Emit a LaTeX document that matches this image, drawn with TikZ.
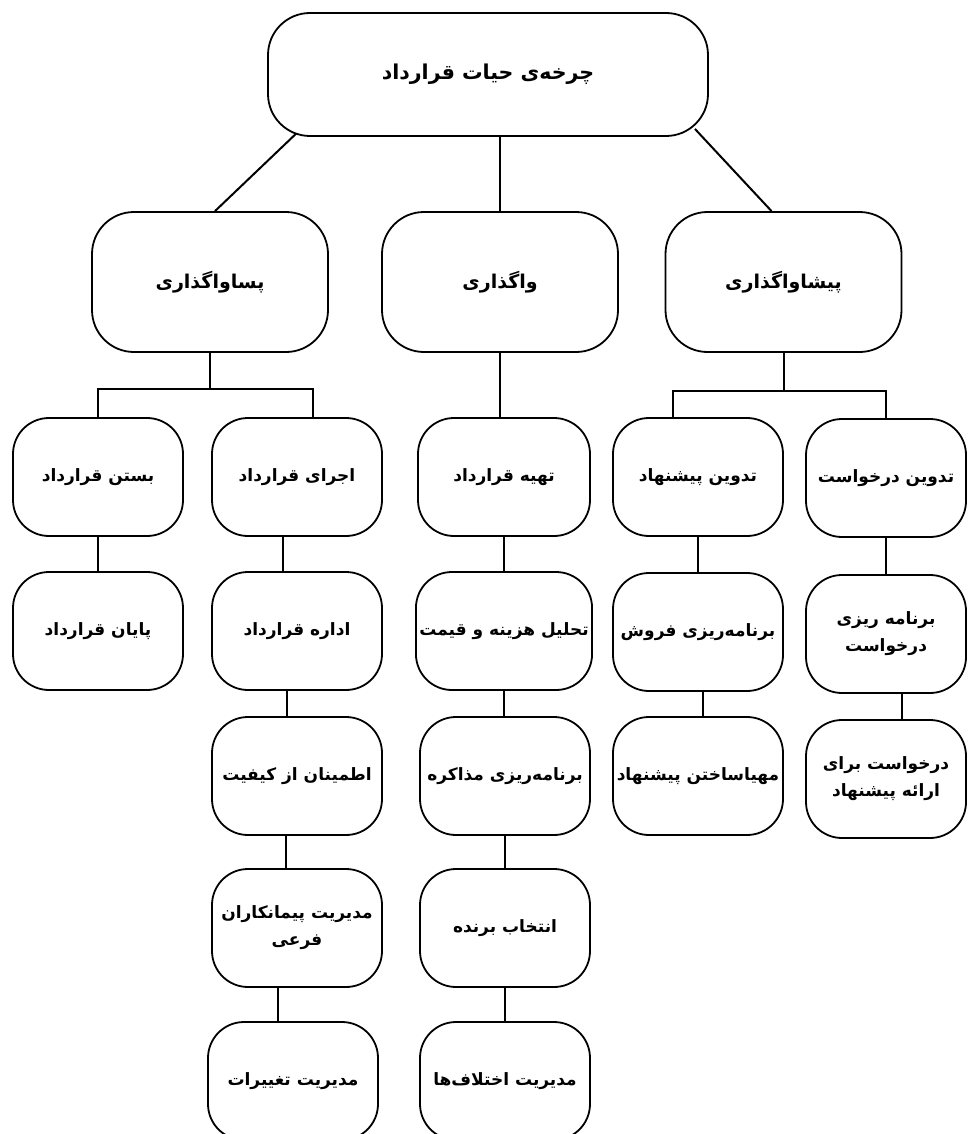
\documentclass[tikz,border=0pt]{standalone}
\usepackage{fontspec}
\newfontfamily\arabicfont[Script=Arabic]{DejaVu Sans}
\TeXXeTstate=1
\newcommand{\fatext}[1]{\beginR#1\endR}
\usetikzlibrary{backgrounds}

\begin{document}
\begin{tikzpicture}[x=1pt,y=-1pt,
    box/.style={draw,fill=white,line width=1.8pt,rounded corners=36pt,align=center,
      minimum width=170pt,minimum height=118pt,
      font=\arabicfont\bfseries\fontsize{17}{27}\selectfont},
    phase/.style={box,minimum width=236pt,minimum height=140pt,rounded corners=42pt,
      font=\arabicfont\bfseries\fontsize{19}{26}\selectfont},
    link/.style={line width=2pt}]
  \useasboundingbox (0,0) rectangle (968,1134);
  \draw
    (488,74.5) node[box,minimum width=440pt,minimum height=123pt,rounded corners=42pt,
      font=\arabicfont\bfseries\fontsize{20.5}{28}\selectfont] (cycle){\fatext{چرخه^^^^200cی حیات قرارداد}}
    (210,282) node[phase] (post){\fatext{پساواگذاری}}
    (500,282) node[phase] (award){\fatext{واگذاری}}
    (783.5,282) node[phase] (pre){\fatext{پیشاواگذاری}}
    (98,477) node[box] (close){\fatext{بستن قرارداد}}
    (98,631) node[box] (finish){\fatext{پایان قرارداد}}
    (297,477) node[box] (exec){\fatext{اجرای قرارداد}}
    (297,631) node[box] (admin){\fatext{اداره قرارداد}}
    (297,776) node[box] (quality){\fatext{اطمینان از کیفیت}}
    (297,928) node[box] (subcon){\fatext{مدیریت پیمانکاران}\\\fatext{فرعی}}
    (293,1081) node[box] (change){\fatext{مدیریت تغییرات}}
    (504,477) node[box,minimum width=172pt] (prep){\fatext{تهیه قرارداد}}
    (504,631) node[box,minimum width=172pt] (cost){\fatext{تحلیل هزینه و قیمت}}
    (505,776) node[box] (nego){\fatext{برنامه^^^^200cریزی مذاکره}}
    (505,928) node[box] (winner){\fatext{انتخاب برنده}}
    (505,1081) node[box] (dispute){\fatext{مدیریت اختلاف^^^^200cها}}
    (698,477) node[box] (offer){\fatext{تدوین پیشنهاد}}
    (698,632) node[box] (sales){\fatext{برنامه^^^^200cریزی فروش}}
    (698,776) node[box] (ready){\fatext{مهیاساختن پیشنهاد}}
    (886,478) node[box,minimum width=160pt] (request){\fatext{تدوین درخواست}}
    (886,634) node[box,minimum width=160pt] (reqplan){\fatext{برنامه ریزی}\\\fatext{درخواست}}
    (886,779) node[box,minimum width=160pt] (invite){\fatext{درخواست برای}\\\fatext{ارائه پیشنهاد}};
  \begin{scope}[on background layer]
    % top level
    \draw[link] ([shift={(34pt,8pt)}]cycle.south west) -- ([xshift=5pt]post.north);
    \draw[link] (award.north) -- (award.north |- cycle.south);
    \draw[link] ([shift={(-14pt,8pt)}]cycle.south east) -- ([xshift=-12pt]pre.north);
    % post-award
    \draw[link] (post.south) -- ++(0,36) -| (close.north);
    \draw[link] (post.south) -- ++(0,36) -| ([xshift=16pt]exec.north);
    \draw[link] (close) to (finish);
    \draw[link] ([xshift=-14pt]exec.south) to ([xshift=-14pt]admin.north);
    \draw[link] ([xshift=-10pt]admin.south) to ([xshift=-10pt]quality.north);
    \draw[link] ([xshift=-11pt]quality.south) to ([xshift=-11pt]subcon.north);
    \draw[link] ([xshift=-19pt]subcon.south) to ([xshift=-15pt]change.north);
    % award
    \draw[link] (award.south) -- (award.south |- prep.north);
    \draw[link] (prep) to (cost);
    \draw[link] (cost.south) -- (cost.south |- nego.north);
    \draw[link] (nego) to (winner);
    \draw[link] (winner) to (dispute);
    % pre-award
    \draw[link] (pre.south) -- ++(0,38) -| ([xshift=-25pt]offer.north);
    \draw[link] (pre.south) -- ++(0,38) -| (request.north);
    \draw[link] (offer.south) -- (offer.south |- sales.north);
    \draw[link] ([xshift=5pt]sales.south) -- ([xshift=5pt]ready.north);
    \draw[link] (request.south) -- (request.south |- reqplan.north);
    \draw[link] ([xshift=16pt]reqplan.south) -- ([xshift=16pt]invite.north);
  \end{scope}
\end{tikzpicture}
\end{document}
